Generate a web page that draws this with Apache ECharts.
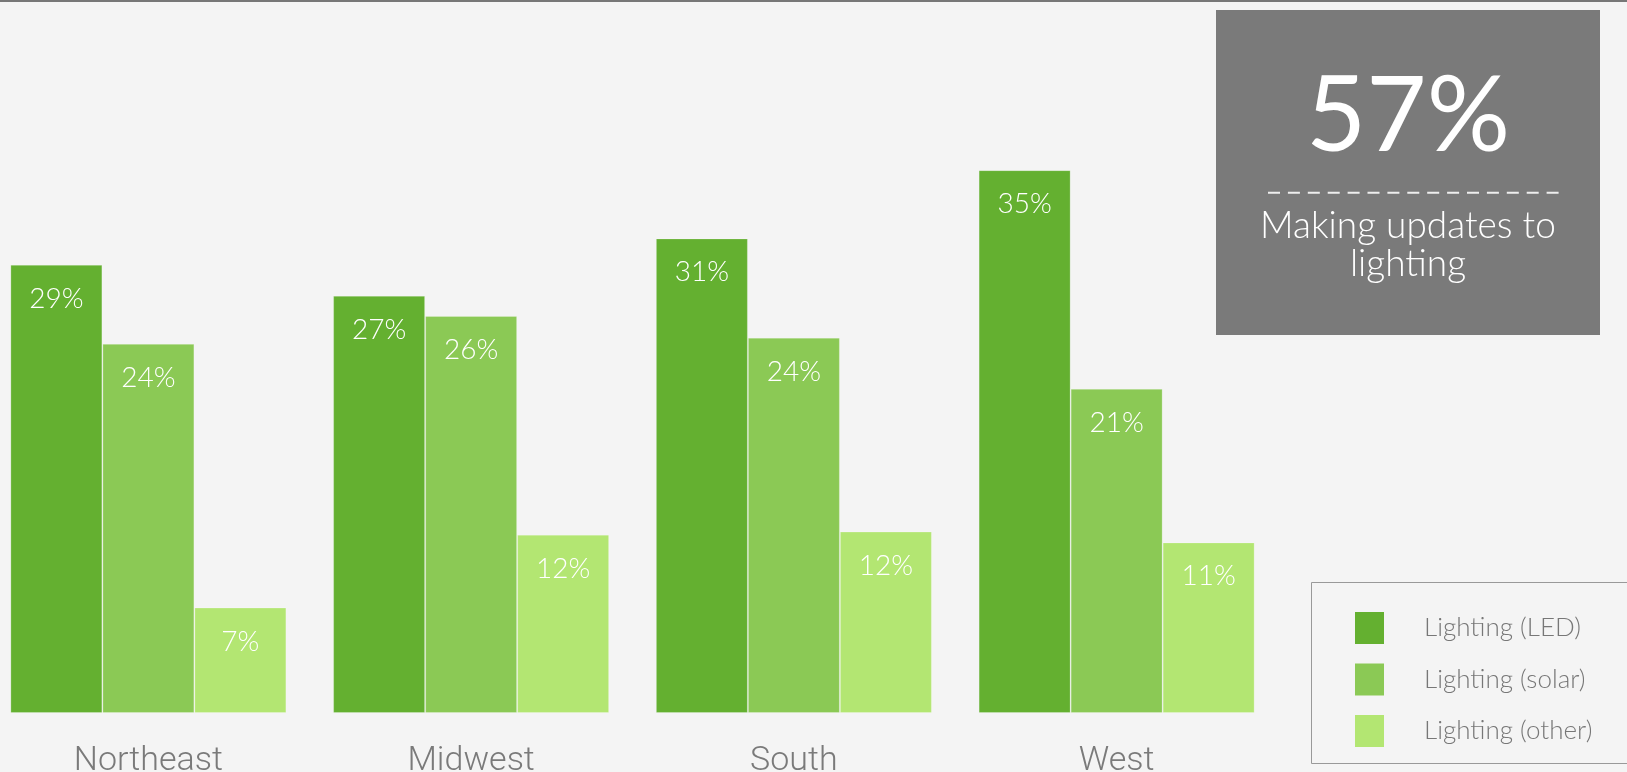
<!DOCTYPE html>
<html>
<head>
<meta charset="utf-8">
<script src="https://cdn.jsdelivr.net/npm/echarts@6/dist/echarts.min.js"></script>
<style>
html,body{margin:0;padding:0;background:#f4f4f4;overflow:hidden;}
#chart{position:absolute;left:-13px;top:0;width:1640px;height:772px;}
</style>
</head>
<body>
<div id="chart"></div>
<script>
var categories = ['Northeast', 'Midwest', 'South', 'West'];
var seriesNames = ['Lighting (LED)', 'Lighting (solar)', 'Lighting (other)'];
var ledValues = [28.9, 26.9, 30.6, 35.0];
var solarValues = [23.8, 25.6, 24.2, 20.9];
var otherValues = [6.8, 11.5, 11.7, 11.0];
var calloutValue = '57%';
var calloutText = ['Making updates to', 'lighting'];

var colors = ['#64b030', '#8bc955', '#b3e672'];
var OX = 13; // container is shifted left by 13px

var chart = echarts.init(document.getElementById('chart'));

function barSeries(name, data, color) {
  return {
    name: name,
    type: 'bar',
    data: data,
    barWidth: 92,
    barGap: '0%',
    itemStyle: { color: color, borderColor: 'rgba(255,255,255,0.22)', borderWidth: 1 },
    label: {
      show: true,
      position: 'insideTop',
      distance: 20,
      color: '#ffffff',
      fontFamily: 'Lato',
      fontWeight: 300,
      fontSize: 28,
      formatter: function (p) { return Math.round(p.value) + '%'; }
    },
    emphasis: { disabled: true }
  };
}

chart.setOption({
  backgroundColor: '#f4f4f4',
  animation: false,
  grid: { left: 0, width: 1291, top: 92.6, height: 620.4, outerBoundsMode: 'none', containLabel: false },
  xAxis: {
    type: 'category',
    data: categories,
    axisLine: { show: false },
    axisTick: { show: false },
    axisLabel: { fontSize: 34, fontFamily: 'Roboto', fontWeight: 300, color: '#7a7a7a', margin: 31 }
  },
  yAxis: { type: 'value', min: 0, max: 40, show: false, splitLine: { show: false } },
  legend: {
    orient: 'vertical',
    left: 1355 + OX,
    top: 612,
    padding: 0,
    itemWidth: 29,
    itemHeight: 32,
    itemGap: 19.5,
    icon: 'rect',
    itemStyle: { borderWidth: 0 },
    selectedMode: false,
    data: seriesNames,
    textStyle: { fontSize: 26, fontFamily: 'Lato', fontWeight: 300, color: '#777777', padding: [0, 0, 0, 35] }
  },
  series: [
    barSeries(seriesNames[0], ledValues, colors[0]),
    barSeries(seriesNames[1], solarValues, colors[1]),
    barSeries(seriesNames[2], otherValues, colors[2])
  ],
  graphic: [
    { type: 'rect', shape: { x: 0, y: 0, width: 1640, height: 2 }, style: { fill: '#777777' } },
    { type: 'rect', shape: { x: 1311.5 + OX, y: 582.5, width: 340, height: 181 }, style: { fill: 'none', stroke: '#999999', lineWidth: 1 } },
    { type: 'rect', shape: { x: 1216 + OX, y: 10, width: 384, height: 325 }, style: { fill: '#7a7a7a' } },
    { type: 'text', x: 1408 + OX, y: 117, style: { text: calloutValue, fill: '#ffffff', font: '400 104px Lato', textAlign: 'center', textVerticalAlign: 'middle' } },
    { type: 'line', shape: { x1: 1268 + OX, y1: 192.7, x2: 1560 + OX, y2: 192.7 }, style: { stroke: '#eeeeee', lineWidth: 2, lineDash: [12, 7.9] } },
    { type: 'text', x: 1408 + OX, y: 226, style: { text: calloutText[0], fill: '#ffffff', font: '300 37px Lato', textAlign: 'center', textVerticalAlign: 'middle' } },
    { type: 'text', x: 1408 + OX, y: 264, style: { text: calloutText[1], fill: '#ffffff', font: '300 37px Lato', textAlign: 'center', textVerticalAlign: 'middle' } }
  ]
});
</script>
</body>
</html>
